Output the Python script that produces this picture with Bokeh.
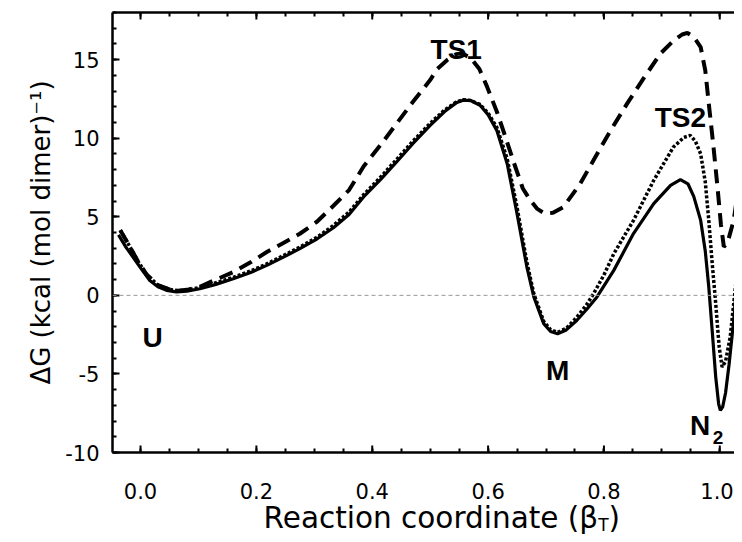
from bokeh.plotting import figure
from bokeh.layouts import column
from bokeh.models import LinearAxis, Range1d, Label, Span, FixedTicker
from bokeh.core.properties import value
from bokeh.embed import file_html
from bokeh.resources import INLINE

# ---- data ----
solid_x = [-0.038, -0.025, -0.013, 0.0, 0.016, 0.03, 0.045, 0.062, 0.08, 0.1025, 0.13, 0.16, 0.19,
           0.218, 0.245, 0.275, 0.305, 0.333, 0.36, 0.385, 0.415, 0.442, 0.47, 0.50, 0.525, 0.545,
           0.557, 0.57, 0.586, 0.60, 0.615, 0.633, 0.650, 0.667, 0.679, 0.696, 0.708, 0.72, 0.735,
           0.753, 0.77, 0.788, 0.817, 0.851, 0.886, 0.915, 0.932, 0.945, 0.955, 0.967, 0.975, 0.981,
           0.987, 0.993, 0.998, 1.001, 1.005, 1.01, 1.016, 1.024, 1.033, 1.040]
solid_y = [3.85, 3.05, 2.44, 1.75, 0.95, 0.55, 0.32, 0.22, 0.27, 0.42, 0.70, 1.06, 1.45,
           1.91, 2.40, 2.97, 3.60, 4.30, 5.15, 6.26, 7.40, 8.49, 9.65, 10.82, 11.70, 12.25,
           12.42, 12.40, 12.10, 11.50, 10.50, 8.38, 5.20, 1.80, -0.10, -1.80, -2.30, -2.44, -2.20,
           -1.60, -0.90, -0.10, 1.59, 3.93, 5.84, 7.00, 7.36, 7.10, 6.30, 4.77, 2.80, 0.53,
           -2.30, -5.20, -6.90, -7.32, -7.10, -6.20, -4.40, -1.59, 2.65, 7.00]

dotted_x = [-0.035, -0.02, -0.005, 0.01, 0.03, 0.05, 0.065, 0.08, 0.1025, 0.13, 0.16, 0.19,
            0.218, 0.245, 0.275, 0.305, 0.333, 0.36, 0.385, 0.415, 0.442, 0.47, 0.50, 0.525,
            0.545, 0.557, 0.57, 0.586, 0.60, 0.615, 0.633, 0.650, 0.667, 0.679, 0.696, 0.708,
            0.72, 0.735, 0.753, 0.77, 0.782, 0.80, 0.817, 0.851, 0.886, 0.92, 0.938, 0.949,
            0.958, 0.967, 0.975, 0.981, 0.987, 0.993, 0.999, 1.004, 1.01, 1.018, 1.030, 1.040]
dotted_y = [4.15, 3.20, 2.20, 1.35, 0.65, 0.38, 0.30, 0.33, 0.50, 0.80, 1.15, 1.55,
            2.00, 2.50, 3.07, 3.70, 4.45, 5.30, 6.40, 7.55, 8.65, 9.80, 10.95, 11.80,
            12.30, 12.45, 12.40, 12.15, 11.60, 10.70, 8.70, 5.60, 2.10, 0.10, -1.65, -2.20,
            -2.35, -2.10, -1.40, -0.60, 0.10, 1.30, 2.65, 4.77, 7.32, 9.44, 10.05, 10.18,
            9.80, 9.00, 7.20, 4.77, 2.00, -0.53, -3.30, -4.56, -4.20, -2.65, 1.59, 6.00]

dashed_x = [-0.035, -0.02, -0.005, 0.01, 0.03, 0.05, 0.065, 0.08, 0.1025, 0.13, 0.16, 0.19,
            0.218, 0.245, 0.275, 0.305, 0.333, 0.36, 0.385, 0.415, 0.442, 0.47, 0.50, 0.512,
            0.53, 0.545, 0.555, 0.57, 0.585, 0.598, 0.615, 0.627, 0.644, 0.66, 0.673, 0.685,
            0.698, 0.712, 0.73, 0.759, 0.782, 0.81, 0.84, 0.87, 0.898, 0.92, 0.935, 0.944,
            0.955, 0.967, 0.975, 0.981, 0.989, 0.996, 1.002, 1.007, 1.013, 1.024, 1.040]
dashed_y = [4.15, 3.20, 2.20, 1.35, 0.65, 0.38, 0.30, 0.35, 0.55, 1.00, 1.48, 2.10,
            2.76, 3.30, 3.92, 4.70, 5.70, 6.70, 8.20, 9.60, 10.93, 12.30, 13.70, 14.40,
            15.00, 15.35, 15.40, 15.10, 14.40, 13.30, 11.70, 10.40, 8.50, 6.80, 6.05, 5.50,
            5.20, 5.25, 5.62, 7.10, 8.60, 10.40, 12.20, 13.90, 15.40, 16.20, 16.60, 16.70,
            16.45, 15.80, 14.30, 12.20, 9.50, 6.90, 4.50, 3.10, 3.30, 4.77, 8.80]

y_ticks = [-10, -5, 0, 5, 10, 15]
y_tick_labels = ["-10", "-5", "0", "5", "10", "15"]
y_minor = list(range(-10, 19))
x_ticks = [0.0, 0.2, 0.4, 0.6, 0.8, 1.0]
x_tick_labels = ["0.0", "0.2", "0.4", "0.6", "0.8", "1.0"]
x_minor = [round(i * 0.05, 2) for i in range(-1, 22)]

state_labels = ["TS1", "TS2", "U", "M", "N", "2"]
x_title_parts = ["Reaction coordinate (\u03b2", "T", ")"]
y_title = "\u0394G (kcal (mol dimer)\u207b\u00b9)"

FONT = "DejaVu Sans"
BOLD = "Liberation Sans"
X0, X1 = -0.0484, 1.0254
Y0, Y1 = -10, 18
FRAME_W, FRAME_H = 622, 440
PX_PER_X = FRAME_W / (X1 - X0)
PX_PER_Y = FRAME_H / (Y1 - Y0)

p = figure(width=734, height=466, output_backend="svg", toolbar_location=None,
           x_range=Range1d(X0, X1), y_range=Range1d(Y0, Y1),
           min_border_left=112, min_border_right=0, min_border_top=12, min_border_bottom=14,
           x_axis_location=None, y_axis_location=None)
p.grid.visible = False
p.outline_line_color = None
p.background_fill_color = "white"
p.border_fill_color = "white"

def style(ax):
    ax.axis_line_width = 2.5
    ax.axis_line_color = "black"
    ax.major_tick_in = 7
    ax.major_tick_out = 0
    ax.minor_tick_in = 4
    ax.minor_tick_out = 0
    ax.major_tick_line_width = 2
    ax.minor_tick_line_width = 2
    ax.major_tick_line_color = "black"
    ax.minor_tick_line_color = "black"
    ax.major_label_text_font = FONT
    ax.major_label_text_font_size = "21px"
    ax.major_label_text_color = "black"

# bottom and top frame lines with minor ticks; major x ticks drawn as short segments
for loc in ("below", "above"):
    ax = LinearAxis(ticker=FixedTicker(ticks=[], minor_ticks=x_minor))
    style(ax)
    p.add_layout(ax, loc)
n = len(x_ticks)
p.segment(x0=x_ticks, x1=x_ticks, y0=[Y1] * n, y1=[Y1 - 7 / PX_PER_Y] * n,
          line_color="black", line_width=2)
p.segment(x0=x_ticks, x1=x_ticks, y0=[Y0] * n, y1=[Y0 + 7 / PX_PER_Y] * n,
          line_color="black", line_width=2)

yl = LinearAxis(ticker=FixedTicker(ticks=y_ticks, minor_ticks=y_minor))
style(yl)
yl.major_label_overrides = {t: s for t, s in zip(y_ticks, y_tick_labels)}
yl.major_label_standoff = 13
yl.axis_label = y_title
yl.axis_label_text_font = FONT
yl.axis_label_text_font_size = "26px"
yl.axis_label_text_font_style = "normal"
yl.axis_label_text_color = "black"
yl.axis_label_standoff = 6
p.add_layout(yl, "left")

p.add_layout(Span(location=0, dimension="width", line_color="#999999",
                  line_dash="4 3", line_width=1))

p.line(dashed_x, dashed_y, line_color="black", line_width=4, line_dash="14 8")
p.line(dotted_x, dotted_y, line_color="black", line_width=3.5, line_dash="3 2")
p.line(solid_x, solid_y, line_color="black", line_width=3.2)

def lab(x, y, text, size="28px", align="center"):
    p.add_layout(Label(x=x, y=y, text=text, text_align=align, text_baseline="alphabetic",
                       text_font=BOLD, text_font_size=size, text_font_style="bold",
                       text_color="black"))

lab(0.545, 15.64, state_labels[0])
lab(0.932, 11.35, state_labels[1])
lab(0.021, -2.67, state_labels[2])
lab(0.720, -4.77, state_labels[3])
lab(0.966, -8.27, state_labels[4])
lab(0.988, -9.02, state_labels[5], size="19px", align="left")

# x tick labels and x-axis title (with subscript) in a strip below, sharing the x scale
H2 = 68
p2 = figure(width=734, height=H2, output_backend="svg", toolbar_location=None,
            x_range=p.x_range, y_range=Range1d(0, H2),
            min_border_left=112, min_border_right=0, min_border_top=0, min_border_bottom=0,
            x_axis_location=None, y_axis_location=None)
p2.grid.visible = False
p2.outline_line_color = None
p2.background_fill_color = "white"
p2.border_fill_color = "white"
# keep the last tick label inside the strip's right edge
label_x = [min(t, X1 - 17.5 / PX_PER_X) for t in x_ticks]
p2.text(x=label_x, y=[H2 - 24] * n, text=x_tick_labels, text_align="center",
        text_baseline="alphabetic", text_font=value(FONT), text_font_size="21px",
        text_color="black")
p2.text(x=[0.790], y=[16.5], text=[x_title_parts[0]], text_align="right",
        text_baseline="alphabetic", text_font=value(FONT), text_font_size="29.5px",
        text_color="black")
p2.text(x=[0.790], y=[9.5], text=[x_title_parts[1]], text_align="left",
        text_baseline="alphabetic", text_font=value(FONT), text_font_size="17px",
        text_color="black")
p2.text(x=[0.808], y=[16.5], text=[x_title_parts[2]], text_align="left",
        text_baseline="alphabetic", text_font=value(FONT), text_font_size="29.5px",
        text_color="black")

layout = column(p, p2, spacing=0)
open("out.html", "w").write(file_html(layout, INLINE))
